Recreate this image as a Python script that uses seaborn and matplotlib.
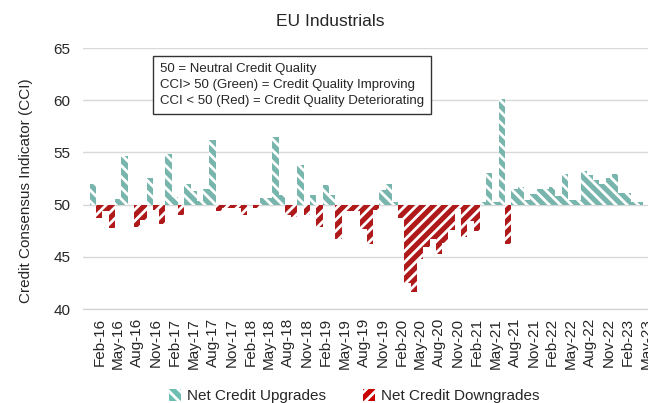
import pandas as pd
import numpy as np
import matplotlib
matplotlib.use("Agg")
import matplotlib.pyplot as plt
from matplotlib.patches import Patch
import seaborn as sns

# monthly CCI, Jan-16 .. Apr-23
cci = [52.0, 48.7, 49.4, 47.8, 50.5, 54.7, 50.0, 47.9, 48.5, 52.55, 49.5, 48.15,
       54.8, 50.75, 49.0, 52.0, 51.35, 50.3, 51.5, 56.15, 49.35, 49.7, 49.7, 49.7,
       49.05, 50.0, 49.7, 50.65, 50.65, 56.5, 50.95, 49.05, 48.8, 53.75, 49.05, 50.95,
       47.9, 51.9, 50.95, 46.75, 49.35, 49.35, 49.35, 47.7, 46.2, 49.5, 51.4, 52.0,
       50.25, 48.7, 42.5, 41.65, 44.75, 45.9, 46.7, 45.3, 46.3, 47.6, 49.55, 46.85,
       48.4, 47.5, 50.25, 53.05, 50.25, 60.15, 46.2, 51.5, 51.7, 50.45, 51.05, 51.45,
       51.45, 51.7, 50.8, 52.95, 50.45, 50.4, 53.2, 52.85, 52.35, 52.0, 52.55, 52.95,
       51.1, 51.1, 50.25, 50.25]
months = list(pd.date_range("2016-01-01", periods=len(cci), freq="MS").strftime("%b-%y"))
tick_labels = list(pd.date_range("2016-02-01", periods=30, freq="3MS").strftime("%b-%y"))
tick_pos = list(range(1, 1 + 3 * len(tick_labels), 3))

up_lab = "Net Credit Upgrades"
down_lab = "Net Credit Downgrades"
green = "#6DBFB4"
red = "#C80000"

df = pd.DataFrame({"month": months, "cci": cci})
df["diff"] = df["cci"] - 50
df["kind"] = np.where(df["diff"] >= 0, up_lab, down_lab)

sns.set_style("white")
plt.rcParams["font.family"] = ["Liberation Sans", "DejaVu Sans"]
plt.rcParams["hatch.linewidth"] = 2.0

fig = plt.figure(figsize=(6.48, 4.03), dpi=100)
ax = fig.add_axes([83 / 648, 94 / 403, 579.3 / 648, 261 / 403])

sns.barplot(data=df, x="month", y="diff", hue="kind", order=months,
            hue_order=[up_lab, down_lab], palette={up_lab: green, down_lab: red},
            dodge=False, width=1.0, bottom=50, legend=False, ax=ax)

hatches = {0: "\\\\\\", 1: "///"}
for i, cont in enumerate(ax.containers):
    for p in cont.patches:
        p.set_hatch(hatches[i])
        p.set_edgecolor("white")
        p.set_linewidth(0)

ax.set_ylim(40, 65)
ax.set_yticks([40, 45, 50, 55, 60, 65])
ax.set_xlim(-1.6, 90.5)
ax.set_xticks(tick_pos)
ax.set_xticklabels(tick_labels, rotation=90, fontsize=11)
ax.tick_params(axis="y", length=0, pad=9, labelsize=11)
ax.tick_params(axis="x", direction="inout", length=5, width=0.8, color="#D0D0D0", pad=4)
ax.grid(axis="y", color="#D9D9D9", linewidth=1)
ax.set_axisbelow(True)
for s in ["left", "right", "top"]:
    ax.spines[s].set_visible(False)
ax.spines["bottom"].set_color("#D0D0D0")
ax.set_xlabel("")
ax.set_ylabel("Credit Consensus Indicator (CCI)", fontsize=11)
ax.yaxis.set_label_coords(-0.086, 0.452)

fig.text(330 / 648, 1 - 21 / 403, "EU Industrials", ha="center", va="center", fontsize=12.5)

note = ("50 = Neutral Credit Quality\n"
        "CCI> 50 (Green) = Credit Quality Improving\n"
        "CCI < 50 (Red) = Credit Quality Deteriorating")
fig.text(160 / 648, 1 - 63 / 403, note, ha="left", va="top", fontsize=9.5, linespacing=1.45,
         bbox=dict(boxstyle="square,pad=0.55", fc="white", ec="#333333", lw=1))

handles = [Patch(facecolor=green, edgecolor="white", hatch="\\\\\\", lw=0, label=up_lab),
           Patch(facecolor=red, edgecolor="white", hatch="///", lw=0, label=down_lab)]
fig.legend(handles=handles, loc="lower center", bbox_to_anchor=(354 / 648, -0.035), ncol=2,
           frameon=False, fontsize=11, handlelength=0.8, handleheight=0.8,
           handletextpad=0.4, columnspacing=2.4)

fig.savefig("out.png", dpi=100)
